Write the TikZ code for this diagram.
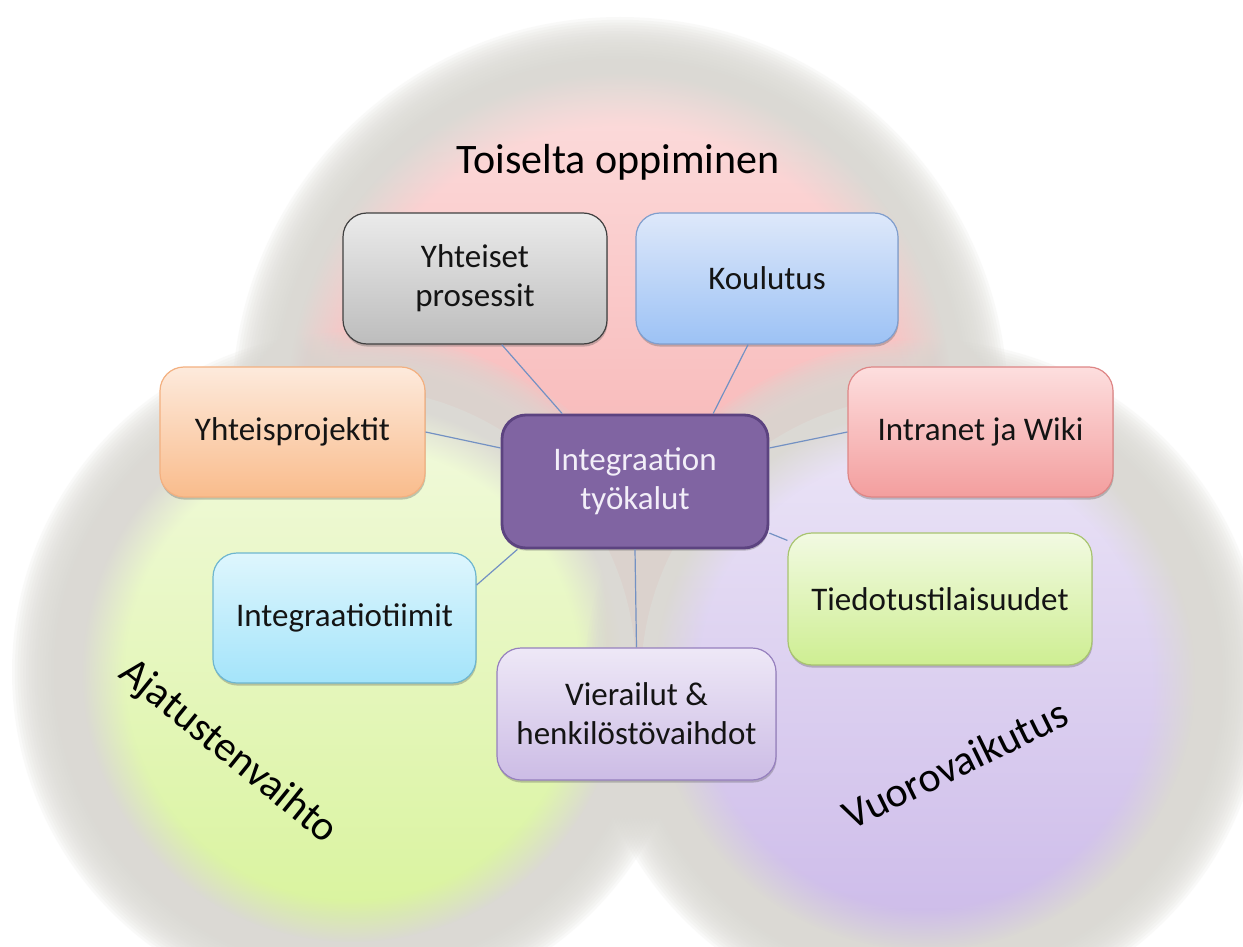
\documentclass[tikz,border=0pt]{standalone}
\usepackage{fontspec}
\setmainfont{Carlito}
\usetikzlibrary{fadings,shadows}

% coloured discs: opaque core, fading rim
\pgfdeclareradialshading{discedgeshade}{\pgfpointorigin}{%
  color(0bp)=(pgftransparent!0); color(21bp)=(pgftransparent!0);
  color(25bp)=(pgftransparent!100); color(50bp)=(pgftransparent!100)}
\pgfdeclarefading{discedge}{\pgfuseshading{discedgeshade}}

% grey glow: stacked translucent discs, #1 centre, #2 outer radius (pt), #3 rim width (pt)
\newcommand{\softhalo}[3]{%
  \foreach \k in {0,...,19}{%
    \pgfmathsetmacro{\haloR}{#2-\k*#3/20}%
    \fill[haloGray, opacity=0.14] (#1) circle (\haloR pt);
  }%
  \pgfmathsetmacro{\haloC}{#2-#3}%
  \fill[haloGray] (#1) circle (\haloC pt);
}

\definecolor{haloGray}{RGB}{219,217,212}
\definecolor{pinkTop}{RGB}{252,222,222}
\definecolor{pinkBot}{RGB}{245,158,158}
\definecolor{greenTop}{RGB}{242,250,222}
\definecolor{greenBot}{RGB}{216,243,155}
\definecolor{lavTop}{RGB}{236,230,247}
\definecolor{lavBot}{RGB}{204,186,233}
\definecolor{linkBlue}{RGB}{115,145,195}
\definecolor{hubFill}{RGB}{128,100,162}
\definecolor{hubLine}{RGB}{92,67,128}
\definecolor{hubText}{RGB}{242,238,248}

\begin{document}
\begin{tikzpicture}[x=0.5pt,y=-0.5pt,
  box/.style={rounded corners=12pt, draw, line width=0.6pt, align=center,
    text=black!92, font=\fontsize{16.5}{19.5}\selectfont, inner sep=2pt,
    drop shadow={shadow xshift=0.3pt, shadow yshift=-1.3pt, opacity=0.3, fill=black!70}},
  link/.style={draw=linkBlue, line width=0.6pt},
  zone/.style={font=\fontsize{21}{25}\selectfont, text=black, inner sep=0pt}]

\useasboundingbox (0,0) rectangle (1243,947);
\fill[white] (0,0) rectangle (1243,947);

% three overlapping soft circles
\coordinate (ctop) at (620,405);
\coordinate (cleft) at (352,672);
\coordinate (cright) at (925,680);

\softhalo{ctop}{194}{28}
\shade[top color=pinkTop, bottom color=pinkBot, path fading=discedge] (ctop) circle (166pt);
\softhalo{cleft}{170}{28}
\shade[top color=greenTop, bottom color=greenBot, path fading=discedge] (cleft) circle (135pt);
\softhalo{cright}{170}{28}
\shade[top color=lavTop, bottom color=lavBot, path fading=discedge] (cright) circle (135pt);

% circle captions
\node[zone, anchor=base] (tTop) at (618,174) {Toiselta oppiminen};
\node[zone, rotate=-39] (tLeft) at (228,752) {Ajatustenvaihto};
\node[zone, rotate=26] (tRight) at (955,764) {Vuorovaikutus};

% boxes
\node[box, minimum width=132pt, minimum height=65.5pt, draw=black!75,
  top color=black!8, bottom color=black!26] (yp) at (475,278.5) {Yhteiset\\prosessit};
\node[box, minimum width=131pt, minimum height=65.5pt, draw={rgb,255:red,128;green,158;blue,205},
  top color={rgb,255:red,222;green,232;blue,250}, bottom color={rgb,255:red,156;green,194;blue,245}] (kou) at (767,278.5) {Koulutus};
\node[box, minimum width=132.5pt, minimum height=65pt, draw={rgb,255:red,243;green,176;blue,128},
  top color={rgb,255:red,253;green,234;blue,220}, bottom color={rgb,255:red,249;green,188;blue,140}] (ypr) at (292.5,432) {Yhteisprojektit};
\node[box, minimum width=132.5pt, minimum height=65pt, draw={rgb,255:red,222;green,134;blue,134},
  top color={rgb,255:red,253;green,222;blue,222}, bottom color={rgb,255:red,243;green,158;blue,158}] (intra) at (980.5,432) {Intranet ja Wiki};
\node[box, minimum width=131.5pt, minimum height=65pt, draw={rgb,255:red,110;green,182;blue,207},
  top color={rgb,255:red,222;green,246;blue,253}, bottom color={rgb,255:red,164;green,228;blue,250}] (itiim) at (344.5,618) {Integraatiotiimit};
\node[box, minimum width=152pt, minimum height=66pt, draw={rgb,255:red,168;green,196;blue,112},
  top color={rgb,255:red,242;green,250;blue,226}, bottom color={rgb,255:red,206;green,238;blue,146}] (tied) at (940,599) {Tiedotustilaisuudet};
\node[box, minimum width=139.5pt, minimum height=66pt, draw={rgb,255:red,150;green,128;blue,190},
  top color={rgb,255:red,238;green,232;blue,247}, bottom color={rgb,255:red,204;green,188;blue,229}] (vier) at (636.5,714) {Vierailut \&\\henkilöstövaihdot};

% central hub
\node[box, minimum width=133pt, minimum height=66.5pt, draw=hubLine, line width=1.4pt,
  fill=hubFill, text=hubText] (hub) at (635,481.5) {Integraation\\työkalut};

% connectors
\draw[link] (hub.137.7) -- (yp.-68.7);
\draw[link] (hub.41.6) -- (kou.-106.9);
\draw[link] (hub.166.7) -- (ypr.-0.4);
\draw[link] (hub.14.9) -- (intra.180);
\draw[link] (hub.-150.8) -- (itiim.14.9);
\draw[link] (hub.south) -- (vier.north);
\draw[link] (hub.-21.9) -- (tied.159.5);
\end{tikzpicture}
\end{document}
